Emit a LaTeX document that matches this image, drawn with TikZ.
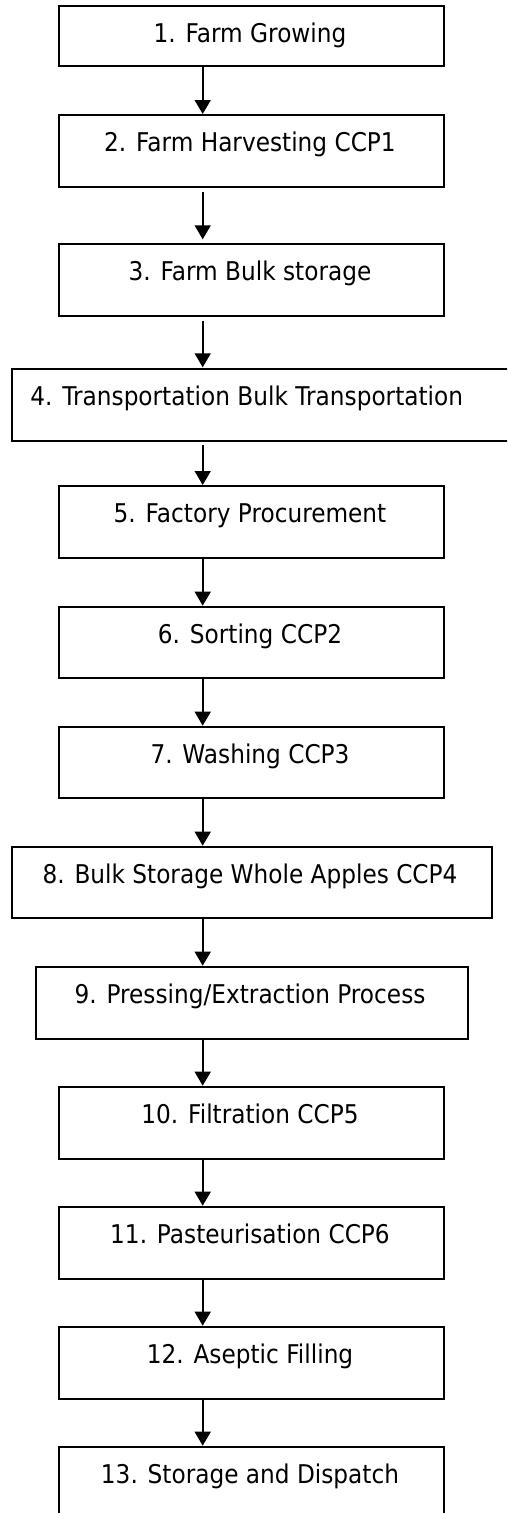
\documentclass[tikz,border=0pt]{standalone}
\usepackage{fontspec}
\setmainfont[FakeStretch=0.9]{DejaVu Sans}
\usetikzlibrary{arrows.meta}
\tikzset{
  box/.style={draw=black, line width=1.8pt, inner sep=0pt, anchor=north west, fill=none},
  lab/.style={anchor=base, inner sep=0pt, font=\fontsize{25.8}{30}\selectfont},
  arr/.style={line width=1.6pt, -{Triangle[width=16pt,length=14pt]}}
}
\begin{document}
\begin{tikzpicture}[x=1pt,y=-1pt]
\clip (0,0) rectangle (507,1513);
\fill[white] (0,0) rectangle (507,1513);
\coordinate (ax) at (202.7,0);
% boxes
\node[box, minimum width=385pt, minimum height=60pt] (b1) at (58.3,5) {};
\node[box, minimum width=385pt, minimum height=71.7pt] (b2) at (58.3,114) {};
\node[box, minimum width=385pt, minimum height=71.7pt] (b3) at (58.3,243.3) {};
\node[box, minimum width=510pt, minimum height=71.7pt] (b4) at (10.7,368.3) {};
\node[box, minimum width=385pt, minimum height=72.3pt] (b5) at (58.3,485) {};
\node[box, minimum width=385pt, minimum height=71.6pt] (b6) at (58.3,605.7) {};
\node[box, minimum width=385pt, minimum height=71.6pt] (b7) at (58.3,725.7) {};
\node[box, minimum width=480.6pt, minimum height=71.6pt] (b8) at (10.7,845.7) {};
\node[box, minimum width=432.6pt, minimum height=72pt] (b9) at (34.7,965.7) {};
\node[box, minimum width=385pt, minimum height=72pt] (b10) at (58.3,1085.7) {};
\node[box, minimum width=385pt, minimum height=72pt] (b11) at (58.3,1205.7) {};
\node[box, minimum width=385pt, minimum height=72pt] (b12) at (58.3,1325.7) {};
\node[box, minimum width=385pt, minimum height=90pt] (b13) at (58.3,1445.7) {};
% labels
\node[lab] (t1) at (250,42.5) {1. Farm Growing};
\node[lab] (t2) at (250,151.5) {2. Farm Harvesting CCP1};
\node[lab] (t3) at (250,280.5) {3. Farm Bulk storage};
\node[lab] (t4) at (246.7,405.8) {4. Transportation Bulk Transportation};
\node[lab] (t5) at (250,522.5) {5. Factory Procurement};
\node[lab] (t6) at (250,643.2) {6. Sorting CCP2};
\node[lab] (t7) at (250,763.2) {7. Washing CCP3};
\node[lab] (t8) at (250,883.2) {8. Bulk Storage Whole Apples CCP4};
\node[lab] (t9) at (250,1003.2) {9. Pressing/Extraction Process};
\node[lab] (t10) at (250,1123.2) {10. Filtration CCP5};
\node[lab] (t11) at (250,1243.2) {11. Pasteurisation CCP6};
\node[lab] (t12) at (250,1363.2) {12. Aseptic Filling};
\node[lab] (t13) at (250,1483.2) {13. Storage and Dispatch};
% arrows
\draw[arr, shorten <=-1pt] (b1.south -| ax) -- (b2.north -| ax);
\draw[arr, shorten <=4pt, shorten >=4pt] (b2.south -| ax) -- (b3.north -| ax);
\draw[arr, shorten <=4pt, shorten >=1pt] (b3.south -| ax) -- (b4.north -| ax);
\draw[arr, shorten <=3pt] (b4.south -| ax) -- (b5.north -| ax);
\draw[arr] (b5.south -| ax) -- (b6.north -| ax);
\draw[arr] (b6.south -| ax) -- (b7.north -| ax);
\draw[arr] (b7.south -| ax) -- (b8.north -| ax);
\draw[arr] (b8.south -| ax) -- (b9.north -| ax);
\draw[arr] (b9.south -| ax) -- (b10.north -| ax);
\draw[arr] (b10.south -| ax) -- (b11.north -| ax);
\draw[arr] (b11.south -| ax) -- (b12.north -| ax);
\draw[arr] (b12.south -| ax) -- (b13.north -| ax);
\end{tikzpicture}
\end{document}
